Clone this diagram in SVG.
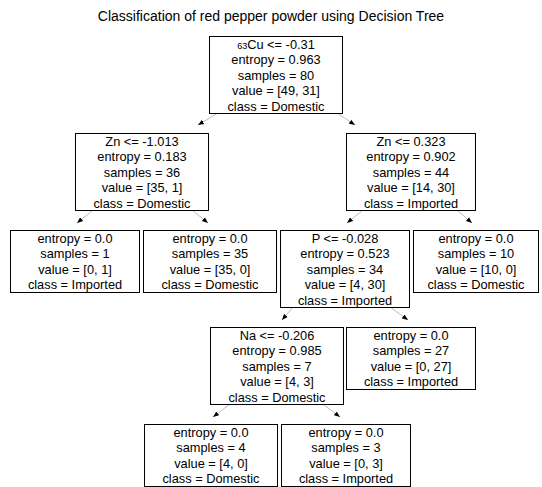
<svg xmlns="http://www.w3.org/2000/svg" width="542" height="487" viewBox="0 0 542 487">
<style>
  .box { fill: #ffffff; stroke: #000000; stroke-width: 1; }
  .t { font-family: "Liberation Sans", Arial, sans-serif; font-size: 12.8px; fill: #000000; text-anchor: middle; }
  .title { font-family: "Liberation Sans", Arial, sans-serif; font-size: 14px; fill: #000000; text-anchor: middle; }
  .edge { stroke: #a0a0a0; stroke-width: 0.7; fill: none; marker-end: url(#ah); }
</style>
<defs>
  <marker id="ah" markerUnits="userSpaceOnUse" markerWidth="6" markerHeight="6" viewBox="0 0 6 6" refX="6" refY="3" orient="auto">
    <path d="M0,0.6 L6,3 L0,5.4 Z" fill="#000000"/>
  </marker>
</defs>
<rect width="542" height="487" fill="#ffffff"/>
<text class="title" x="271" y="21">Classification of red pepper powder using Decision Tree</text>

<g id="connectors">
  <line class="edge" x1="218" y1="113" x2="198" y2="125"/>
  <line class="edge" x1="337" y1="113" x2="355" y2="125"/>
  <line class="edge" x1="93" y1="210" x2="77" y2="223"/>
  <line class="edge" x1="192" y1="210" x2="208" y2="223"/>
  <line class="edge" x1="363" y1="210" x2="347" y2="223"/>
  <line class="edge" x1="457" y1="210" x2="472" y2="223"/>
  <line class="edge" x1="293" y1="307" x2="282" y2="320"/>
  <line class="edge" x1="390" y1="307" x2="408" y2="320"/>
  <line class="edge" x1="230" y1="404" x2="213" y2="417"/>
  <line class="edge" x1="323" y1="404" x2="340" y2="417"/>
</g>

<g id="root">
  <rect class="box" x="209.5" y="36.5" width="133" height="77"/>
  <text class="t" x="276" y="49"><tspan font-size="9">63</tspan>Cu &lt;= -0.31</text>
  <text class="t" x="276" y="64.4">entropy = 0.963</text>
  <text class="t" x="276" y="79.8">samples = 80</text>
  <text class="t" x="276" y="95.2">value = [49, 31]</text>
  <text class="t" x="276" y="110.6">class = Domestic</text>
</g>

<g id="zn_left">
  <rect class="box" x="75.5" y="133.5" width="133" height="77"/>
  <text class="t" x="142" y="146">Zn &lt;= -1.013</text>
  <text class="t" x="142" y="161.4">entropy = 0.183</text>
  <text class="t" x="142" y="176.8">samples = 36</text>
  <text class="t" x="142" y="192.2">value = [35, 1]</text>
  <text class="t" x="142" y="207.6">class = Domestic</text>
</g>

<g id="zn_right">
  <rect class="box" x="346.5" y="133.5" width="129" height="77"/>
  <text class="t" x="411" y="146">Zn &lt;= 0.323</text>
  <text class="t" x="411" y="161.4">entropy = 0.902</text>
  <text class="t" x="411" y="176.8">samples = 44</text>
  <text class="t" x="411" y="192.2">value = [14, 30]</text>
  <text class="t" x="411" y="207.6">class = Imported</text>
</g>

<g id="leaf_1">
  <rect class="box" x="10.5" y="230.5" width="129" height="62"/>
  <text class="t" x="75" y="243">entropy = 0.0</text>
  <text class="t" x="75" y="258.4">samples = 1</text>
  <text class="t" x="75" y="273.8">value = [0, 1]</text>
  <text class="t" x="75" y="289.2">class = Imported</text>
</g>

<g id="leaf_35">
  <rect class="box" x="143.5" y="230.5" width="133" height="62"/>
  <text class="t" x="210" y="243">entropy = 0.0</text>
  <text class="t" x="210" y="258.4">samples = 35</text>
  <text class="t" x="210" y="273.8">value = [35, 0]</text>
  <text class="t" x="210" y="289.2">class = Domestic</text>
</g>

<g id="p_node">
  <rect class="box" x="280.5" y="230.5" width="129" height="77"/>
  <text class="t" x="345" y="243">P &lt;= -0.028</text>
  <text class="t" x="345" y="258.4">entropy = 0.523</text>
  <text class="t" x="345" y="273.8">samples = 34</text>
  <text class="t" x="345" y="289.2">value = [4, 30]</text>
  <text class="t" x="345" y="304.6">class = Imported</text>
</g>

<g id="leaf_10">
  <rect class="box" x="413.5" y="230.5" width="125" height="62"/>
  <text class="t" x="476" y="243">entropy = 0.0</text>
  <text class="t" x="476" y="258.4">samples = 10</text>
  <text class="t" x="476" y="273.8">value = [10, 0]</text>
  <text class="t" x="476" y="289.2">class = Domestic</text>
</g>

<g id="na_node">
  <rect class="box" x="210.5" y="327.5" width="133" height="77"/>
  <text class="t" x="277" y="340">Na &lt;= -0.206</text>
  <text class="t" x="277" y="355.4">entropy = 0.985</text>
  <text class="t" x="277" y="370.8">samples = 7</text>
  <text class="t" x="277" y="386.2">value = [4, 3]</text>
  <text class="t" x="277" y="401.6">class = Domestic</text>
</g>

<g id="leaf_27">
  <rect class="box" x="346.5" y="327.5" width="129" height="62"/>
  <text class="t" x="411" y="340">entropy = 0.0</text>
  <text class="t" x="411" y="355.4">samples = 27</text>
  <text class="t" x="411" y="370.8">value = [0, 27]</text>
  <text class="t" x="411" y="386.2">class = Imported</text>
</g>

<g id="leaf_4">
  <rect class="box" x="144.5" y="424.5" width="133" height="62"/>
  <text class="t" x="211" y="437">entropy = 0.0</text>
  <text class="t" x="211" y="452.4">samples = 4</text>
  <text class="t" x="211" y="467.8">value = [4, 0]</text>
  <text class="t" x="211" y="483.2">class = Domestic</text>
</g>

<g id="leaf_3">
  <rect class="box" x="281.5" y="424.5" width="129" height="62"/>
  <text class="t" x="346" y="437">entropy = 0.0</text>
  <text class="t" x="346" y="452.4">samples = 3</text>
  <text class="t" x="346" y="467.8">value = [0, 3]</text>
  <text class="t" x="346" y="483.2">class = Imported</text>
</g>
</svg>
